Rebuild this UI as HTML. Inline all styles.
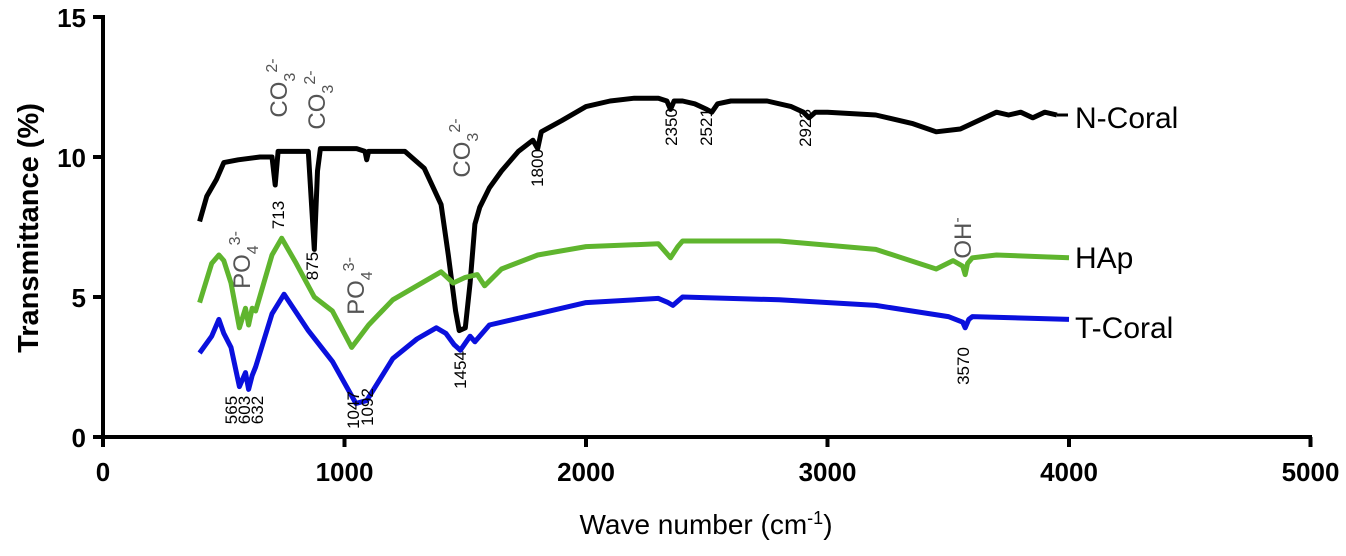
<!DOCTYPE html>
<html><head><meta charset="utf-8">
<style>
body{margin:0;background:#fff;}
svg{display:block;font-family:"Liberation Sans",Arial,sans-serif;}
</style></head>
<body>
<svg id="chart" width="1346" height="556" viewBox="0 0 1346 556">
<g id="axes"></g>
<g id="series"></g>
<g id="annots"></g>
</svg>
<script>
const xTicks=[0,1000,2000,3000,4000,5000];
const yTicks=[0,5,10,15];
const nWave=[400,430,470,500,560,650,700,713,725,750,850,862,875,888,900,1050,1085,1092,1100,1250,1330,1400,1430,1460,1475,1500,1520,1540,1560,1600,1650,1720,1780,1800,1815,1900,2000,2100,2200,2300,2335,2350,2365,2400,2450,2500,2521,2545,2600,2750,2850,2900,2923,2950,3000,3200,3350,3450,3550,3600,3700,3750,3800,3850,3900,3950];
const nVal=[7.7,8.6,9.2,9.8,9.9,10.0,10.0,9.0,10.2,10.2,10.2,8.5,6.7,9.5,10.3,10.3,10.2,9.9,10.2,10.2,9.6,8.3,6.5,4.5,3.8,3.9,5.5,7.6,8.2,8.9,9.5,10.2,10.6,10.3,10.9,11.3,11.8,12.0,12.1,12.1,12.0,11.7,12.0,12.0,11.9,11.7,11.6,11.9,12.0,12.0,11.8,11.6,11.4,11.6,11.6,11.5,11.2,10.9,11.0,11.2,11.6,11.5,11.6,11.4,11.6,11.5];
const hWave=[400,450,480,500,530,565,590,603,618,632,700,740,800,875,950,1030,1100,1200,1300,1400,1450,1500,1550,1580,1650,1800,2000,2300,2330,2350,2380,2400,2800,3200,3450,3520,3560,3570,3580,3600,3700,4000];
const hVal=[4.8,6.2,6.5,6.3,5.5,3.9,4.6,4.0,4.6,4.5,6.5,7.1,6.2,5.0,4.5,3.2,4.0,4.9,5.4,5.9,5.5,5.7,5.8,5.4,6.0,6.5,6.8,6.9,6.6,6.4,6.8,7.0,7.0,6.7,6.0,6.3,6.1,5.8,6.2,6.4,6.5,6.4];
const tWave=[400,450,480,500,530,565,590,603,618,632,700,750,850,950,1047,1092,1200,1300,1380,1420,1454,1480,1520,1540,1600,1800,2000,2300,2340,2360,2400,2800,3200,3500,3560,3570,3585,3600,4000];
const tVal=[3.0,3.6,4.2,3.7,3.2,1.8,2.3,1.7,2.2,2.5,4.4,5.1,3.8,2.7,1.2,1.3,2.8,3.5,3.9,3.7,3.3,3.1,3.6,3.4,4.0,4.4,4.8,4.95,4.8,4.7,5.0,4.9,4.7,4.3,4.1,3.9,4.2,4.3,4.2];
const seriesNames=["N-Coral","HAp","T-Coral"];

const NS="http://www.w3.org/2000/svg";
const X=v=>103+v*0.2415, Y=t=>437-28*t;
function mk(tag,attrs,parent,txt){const e=document.createElementNS(NS,tag);for(const k in attrs)e.setAttribute(k,attrs[k]);if(txt!==undefined)e.textContent=txt;parent.appendChild(e);return e;}
const axes=document.getElementById('axes');
let a=mk('line',{x1:103,y1:437,x2:1312,y2:437,stroke:'#000','stroke-width':4},axes);

a=mk('line',{x1:103,y1:15,x2:103,y2:439,stroke:'#000','stroke-width':4},axes);

xTicks.forEach(v=>{
 let t=mk('line',{x1:X(v),y1:437,x2:X(v),y2:447,stroke:'#000','stroke-width':4},axes);
 
 let l=mk('text',{x:X(v),y:481,'text-anchor':'middle','font-size':26,'font-weight':'bold'},axes,v);
 
});
yTicks.forEach(v=>{
 let t=mk('line',{x1:93,y1:Y(v),x2:103,y2:Y(v),stroke:'#000','stroke-width':4},axes);
 
 let l=mk('text',{x:86,y:Y(v)+10,'text-anchor':'end','font-size':26,'font-weight':'bold'},axes,v);
 
});
let xt=mk('text',{x:706,y:534,'text-anchor':'middle','font-size':28},axes);
xt.innerHTML='Wave number (cm<tspan dy="-10" font-size="18">-1</tspan><tspan dy="10">)</tspan>';

let yt=mk('text',{x:0,y:0,'text-anchor':'middle','font-size':29,'font-weight':'bold',transform:'translate(38,228) rotate(-90)'},axes,'Transmittance (%)');


const sg=document.getElementById('series');
[[nWave,nVal,'#000','n-coral-line',117],[hWave,hVal,'#5fb52e','hap-line',257],[tWave,tVal,'#0a10dd','t-coral-line',327]].forEach((s,i)=>{
 const d=s[0].map((w,j)=>(j?'L':'M')+X(w).toFixed(1)+','+Y(s[1][j]).toFixed(1)).join(' ');
 let p=mk('path',{d:d,fill:'none',stroke:s[2],'stroke-width':5,'stroke-linejoin':'round'},sg);
 
 const lw=s[0][s[0].length-1],lv=s[1][s[1].length-1];
 mk('line',{x1:X(lw),y1:Y(lv),x2:1068,y2:Y(lv),stroke:s[2],'stroke-width':3},sg);
 let l=mk('text',{x:1075,y:s[4]+11,'font-size':30},sg,seriesNames[i]);
 
});

const an=document.getElementById('annots');
function vt(x,y,html,size,color,name){
 let t=mk('text',{x:0,y:0,'text-anchor':'middle','font-size':size,fill:color,transform:`translate(${x},${y}) rotate(-90)`},an);
 t.innerHTML=html;
 
}
const co3='CO<tspan dy="8" font-size="16">3</tspan><tspan dy="-18" font-size="16">2-</tspan>';
const po4='PO<tspan dy="8" font-size="16">4</tspan><tspan dy="-18" font-size="16">3-</tspan>';
vt(287,88,co3,24,'#555','co3-label');
vt(325,100,co3,24,'#555','co3-label');
vt(470,148,co3,24,'#555','co3-label');
vt(250,260,po4,24,'#555','po4-label');
vt(364,286,po4,24,'#555','po4-label');
vt(971,238,'OH<tspan dy="-9" font-size="16">-</tspan>',24,'#555','oh-label');
const nums=[[284,215,'713'],[318,266,'875'],[543,168,'1800'],[677,127,'2350'],[712,127,'2521'],[811,128,'2923'],[237,410,'565'],[250,410,'603'],[263,410,'632'],[359,410,'1047'],[373,407,'1092'],[466,370,'1454'],[969,366,'3570']];
nums.forEach(n=>vt(n[0],n[1],n[2],17,'#000','peak-label'));
</script>
</body></html>
